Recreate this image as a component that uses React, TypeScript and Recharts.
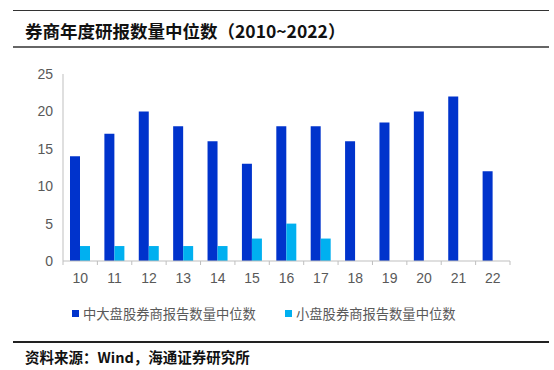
import { BarChart, Bar, XAxis, YAxis } from 'recharts'

const years = ['10', '11', '12', '13', '14', '15', '16', '17', '18', '19', '20', '21', '22']
const largeMid = [14, 17, 20, 18, 16, 13, 18, 18, 16, 18.5, 20, 22, 12]
const small = [2, 2, 2, 2, 2, 3, 5, 3, null, null, null, null, null]
const yTicks = [0, 5, 10, 15, 20, 25]
const seriesNames = ['中大盘股券商报告数量中位数', '小盘股券商报告数量中位数']
const seriesColors = ['#0033CC', '#00B0F0']

const data = years.map((y, i) => ({ year: y, large: largeMid[i], small: small[i] }))

const W = 554
const H = 300
const M = { top: 74, right: 44, bottom: 9, left: 23 }
const Y_W = 40
const band = (W - M.left - Y_W - M.right) / years.length

const font = '"Liberation Sans", Arial, sans-serif'
const cjk = '"Noto Sans CJK SC", sans-serif'

function XTick(props: any) {
  const { x, y, payload, index } = props
  return (
    <g>
      <line x1={x + band / 2} x2={x + band / 2} y1={y - 8} y2={y - 4} stroke="#bfbfbf" />
      {index === 0 && <line x1={x - band / 2} x2={x - band / 2} y1={y - 8} y2={y - 4} stroke="#bfbfbf" />}
      <text x={x} y={y + 14} textAnchor="middle" fill="#595959" fontSize={14} fontFamily={font}>
        {payload.value}
      </text>
    </g>
  )
}

export default function App() {
  return (
    <div style={{ position: 'absolute', left: 0, top: 0, width: W, height: 370, background: '#fff' }}>
      <div style={{ position: 'absolute', left: 13, top: 10, width: 536, borderTop: '1.5px solid #333' }} />
      <div
        style={{
          position: 'absolute',
          left: 25,
          top: 18,
          fontFamily: cjk,
          fontWeight: 700,
          fontSize: 17.5,
          color: '#111',
          whiteSpace: 'nowrap',
        }}
      >
        券商年度研报数量中位数（2010~2022）
      </div>
      <div style={{ position: 'absolute', left: 13, top: 46, width: 536, borderTop: '2px solid #666' }} />

      <div style={{ position: 'absolute', left: 0, top: 0 }}>
        <BarChart width={W} height={H} data={data} margin={M} barGap={0} barCategoryGap="20%">
          <XAxis
            dataKey="year"
            stroke="#bfbfbf"
            tickLine={false}
            tick={<XTick />}
            height={30}
            interval={0}
          />
          <YAxis
            width={Y_W}
            domain={[0, 25]}
            ticks={yTicks}
            stroke="#bfbfbf"
            tickLine={false}
            tickMargin={4}
            tick={{ fill: '#595959', fontSize: 14, fontFamily: font }}
            interval={0}
          />
          <Bar dataKey="large" fill={seriesColors[0]} barSize={10} isAnimationActive={false} />
          <Bar dataKey="small" fill={seriesColors[1]} barSize={10} isAnimationActive={false} />
        </BarChart>
      </div>

      <div
        style={{
          position: 'absolute',
          top: 304,
          left: 72,
          display: 'flex',
          fontFamily: cjk,
          fontSize: 13.3,
          color: '#595959',
          whiteSpace: 'nowrap',
        }}
      >
        {seriesNames.map((n, i) => (
          <div key={n} style={{ display: 'flex', alignItems: 'center', width: i === 0 ? 213 : 'auto' }}>
            <span style={{ display: 'inline-block', width: 7, height: 7, background: seriesColors[i], marginRight: 4 }} />
            {n}
          </div>
        ))}
      </div>

      <div style={{ position: 'absolute', left: 13, top: 341, width: 536, borderTop: '2px solid #222' }} />
      <div
        style={{
          position: 'absolute',
          left: 25,
          top: 346,
          fontFamily: cjk,
          fontWeight: 700,
          fontSize: 14.5,
          color: '#111',
          whiteSpace: 'nowrap',
        }}
      >
        资料来源：Wind，海通证券研究所
      </div>
    </div>
  )
}
